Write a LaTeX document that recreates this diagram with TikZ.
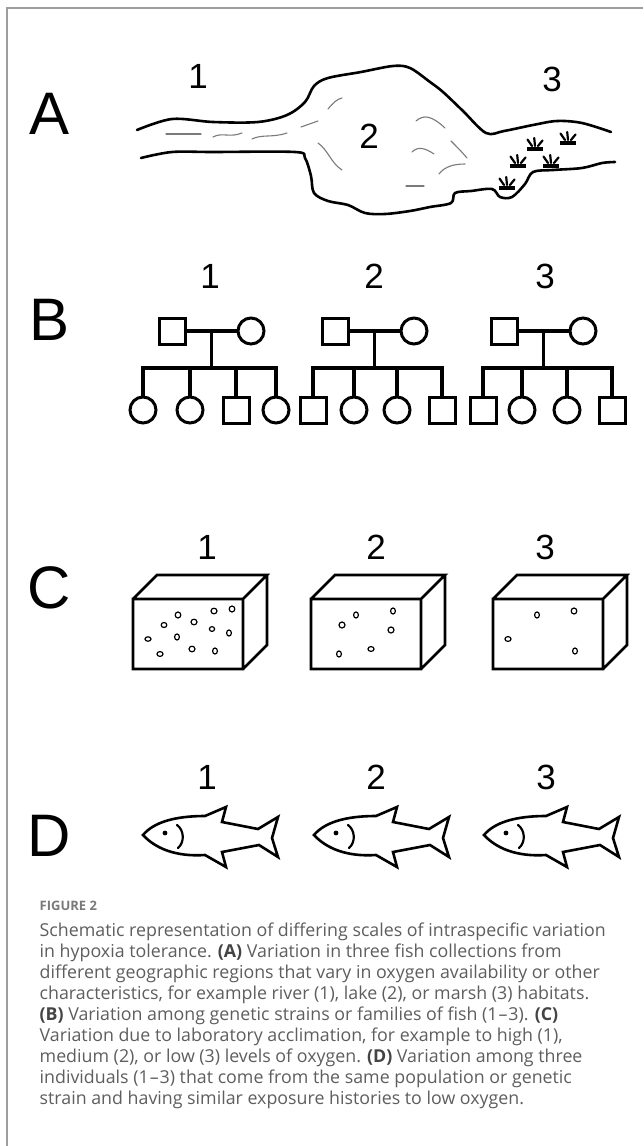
\documentclass[tikz,border=0pt]{standalone}
\usepackage{fontspec}
\setmainfont{Open Sans}
\newfontfamily\figfont{Liberation Sans}
\usetikzlibrary{calc}
\definecolor{captext}{HTML}{5E5E5E}
\definecolor{capbold}{HTML}{444444}
\definecolor{caphead}{HTML}{7A7A7A}
\definecolor{framegray}{HTML}{9E9E9E}
\definecolor{ripplegray}{HTML}{7A7A7A}

\newcommand{\rng}{1\kern1pt–\kern1pt3}

\tikzset{
  panel/.style={font=\figfont\fontsize{60}{60}\selectfont, inner sep=0, anchor=center},
  num/.style={font=\figfont\fontsize{35}{35}\selectfont, inner sep=0, anchor=center},
  bank/.style={line width=2.6pt, line cap=round, line join=round},
  ripple/.style={line width=1.1pt, draw=ripplegray, line cap=round},
  kin/.style={draw, line width=3pt, minimum size=26pt, inner sep=0},
  male/.style={kin, rectangle},
  female/.style={kin, circle},
  pedline/.style={line width=3.8pt},
  bubble/.style={line width=1.2pt},
  capline/.style={anchor=base west, inner sep=0, text=captext,
    font=\fontsize{17.8}{21}\selectfont},
  % marsh grass tuft: a bar with three blades
  tuft/.pic={
    \draw[line width=3.4pt] (-8,0) -- (8,0);
    \draw[line width=2.2pt, line cap=round]
      (0,-3) -- (-0.8,-11) (-3,-3) -- (-7.5,-9.5) (3,-3) -- (7.5,-8.5);
  },
  % aquarium tank drawn from the top-left corner of its front face
  crate/.pic={
    \draw[line width=2.8pt, line join=miter]
      (0,0) rectangle (110,70)
      (0,0) -- (24,-24) -- (134,-24) -- (110,0)
      (110,70) -- (134,46) -- (134,-24);
  },
  % fish outline, nose at the origin
  fishpic/.pic={
    \draw[line width=2.6pt, line join=miter, line cap=round]
      (0,0) .. controls (10,-12) and (30,-19) .. (62,-19)
      -- (83,-28) -- (79,-13) -- (115,-6) -- (135,-18) -- (129,3)
      -- (135,22) -- (116,10) -- (79,17) -- (83,32) -- (62,20)
      .. controls (32,22) and (12,13) .. cycle;
    \fill (22,-2) circle (2.4);
    \draw[line width=2.2pt, line cap=round]
      (34,-10) .. controls (41,-5) and (42,7) .. (35,13);
  }
}

\begin{document}
\begin{tikzpicture}[x=1pt,y=-1pt]
\useasboundingbox (0,0) rectangle (643,1146);
\fill[white] (0,0) rectangle (643,1146);

% frame
\draw[framegray, line width=1.6pt] (6.8,1146) -- (6.8,8) -- (643,8);

% ---------- panel A : river, lake, marsh ----------
\node[panel] (lA) at (49.5,114) {A};
\node[num] (nA1) at (198,76) {1};
\node[num] (nA2) at (369,136) {2};
\node[num] (nA3) at (552,79) {3};

\draw[bank] plot[smooth, tension=0.55] coordinates {
  (137,130) (172,119) (213,122) (258,122) (287,115) (305,102) (314,86)
  (328,78) (361,72) (393,66) (410,68) (430,82) (443,92) (463,111)
  (486,133) (504,131) (533,125) (557,121) (582,123) (611,132)};
\draw[bank] plot[smooth, tension=0.55] coordinates {
  (141,158) (172,152) (213,152) (295,152) (305,158) (311,176) (314,193)
  (328,201) (348,205) (365,213) (385,214) (410,211) (430,207) (451,203)
  (455,193) (471,191) (492,189) (500,197) (512,197) (525,184) (533,172)
  (553,170) (582,168) (602,163) (615,162)};

\draw[ripple] (166,134) -- (201,134);
\draw[ripple] (213,137) .. controls (222,132) and (230,138) .. (242,133);
\draw[ripple] (252,139) .. controls (262,134) and (272,138) .. (287,133);
\draw[ripple] (301,127) -- (318,121);
\draw[ripple] (328,109) .. controls (333,103) and (337,99) .. (342,98);
\draw[ripple] (318,143) .. controls (328,150) and (331,163) .. (342,170);
\draw[ripple] (416,121) .. controls (424,114) and (432,116) .. (445,128);
\draw[ripple] (451,141) .. controls (457,147) and (462,152) .. (467,158);
\draw[ripple] (412,152) .. controls (418,146) and (425,148) .. (434,154);
\draw[ripple] (439,174) .. controls (445,166) and (455,164) .. (465,164);
\draw[ripple] (406,186) -- (424,186);

\pic at (507,188) {tuft};
\pic at (518,166) {tuft};
\pic at (535,149) {tuft};
\pic at (551,166) {tuft};
\pic at (568,143) {tuft};

% ---------- panel B : pedigrees ----------
\node[panel] (lB) at (49.5,320) {B};
\node[num] (nB1) at (210,276) {1};
\node[num] (nB2) at (374,276) {2};
\node[num] (nB3) at (545,276) {3};

\coordinate (sib) at (0,368);

% family 1
\node[male] (f1) at (172,331) {};
\node[female] (m1) at (251,331) {};
\node[female] (c11) at (143,410) {};
\node[female] (c12) at (190,410) {};
\node[male]   (c13) at (236,410) {};
\node[female] (c14) at (276,410) {};
% family 2
\node[male] (f2) at (335,331) {};
\node[female] (m2) at (414,331) {};
\node[male]   (c21) at (313,410) {};
\node[female] (c22) at (354,410) {};
\node[female] (c23) at (397,410) {};
\node[male]   (c24) at (442,410) {};
% family 3
\node[male] (f3) at (504,331) {};
\node[female] (m3) at (583,331) {};
\node[male]   (c31) at (483,410) {};
\node[female] (c32) at (522,410) {};
\node[female] (c33) at (567,410) {};
\node[male]   (c34) at (612,410) {};

\foreach \k in {1,2,3}{
  \draw[pedline] (f\k) -- (m\k);
  \path ($(f\k)!.5!(m\k)$) coordinate (mid\k);
  \draw[pedline] (mid\k) -- (mid\k |- sib);
  \draw[pedline, line join=miter] (c\k1.north) |- (mid\k |- sib) -| (c\k4.north);
  \draw[pedline] (c\k2.north) -- (c\k2.north |- sib);
  \draw[pedline] (c\k3.north) -- (c\k3.north |- sib);
}

% ---------- panel C : tanks ----------
\node[panel] (lC) at (49.5,588) {C};
\node[num] (nC1) at (207,547) {1};
\node[num] (nC2) at (376,547) {2};
\node[num] (nC3) at (545,547) {3};

\pic at (133,599) {crate};
\pic at (311,599) {crate};
\pic at (493,599) {crate};

% bubbles, tank 1
\draw[bubble] (178,615) ellipse [x radius=2.8, y radius=3.0];
\draw[bubble] (164,625) ellipse [x radius=2.8, y radius=2.5];
\draw[bubble] (194,622) ellipse [x radius=3.0, y radius=2.8];
\draw[bubble] (214,611) ellipse [x radius=3.0, y radius=2.8];
\draw[bubble] (232,609) ellipse [x radius=2.8, y radius=3.0];
\draw[bubble] (212,629) ellipse [x radius=2.6, y radius=2.4];
\draw[bubble] (229,633) ellipse [x radius=2.4, y radius=3.0];
\draw[bubble] (148,639) ellipse [x radius=3.0, y radius=2.2];
\draw[bubble] (177,637) ellipse [x radius=2.4, y radius=3.0];
\draw[bubble] (160,654) ellipse [x radius=3.0, y radius=2.4];
\draw[bubble] (192,649) ellipse [x radius=3.0, y radius=2.8];
\draw[bubble] (215,651) ellipse [x radius=2.4, y radius=3.0];
% bubbles, tank 2
\draw[bubble] (356,615) ellipse [x radius=2.4, y radius=3.0];
\draw[bubble] (342,625) ellipse [x radius=3.0, y radius=3.0];
\draw[bubble] (393,611) ellipse [x radius=2.4, y radius=3.0];
\draw[bubble] (391,630) ellipse [x radius=3.0, y radius=3.0];
\draw[bubble] (339,654) ellipse [x radius=2.4, y radius=3.0];
\draw[bubble] (371,649) ellipse [x radius=3.0, y radius=2.4];
% bubbles, tank 3
\draw[bubble] (537,615) ellipse [x radius=2.4, y radius=3.0];
\draw[bubble] (574,611) ellipse [x radius=2.8, y radius=3.0];
\draw[bubble] (508,639) ellipse [x radius=3.0, y radius=2.4];
\draw[bubble] (575,651) ellipse [x radius=2.4, y radius=3.0];

% ---------- panel D : individual fish ----------
\node[panel] (lD) at (49.5,836) {D};
\node[num] (nD1) at (207,777) {1};
\node[num] (nD2) at (376,777) {2};
\node[num] (nD3) at (546,777) {3};

\pic at (143,835) {fishpic};
\pic at (314,835) {fishpic};
\pic at (484,835) {fishpic};

% ---------- caption ----------
\node[anchor=base west, inner sep=0, text=caphead,
  font=\bfseries\fontsize{13}{15}\selectfont] (fig) at (39.5,910) {FIGURE 2};
\node[capline] (cl1) at (39.5,936.0) {Schematic representation of differing scales of intraspecific variation};
\node[capline] (cl2) at (39.5,957.1) {in hypoxia tolerance. \textcolor{capbold}{\bfseries (A)} Variation in three fish collections from};
\node[capline] (cl3) at (39.5,978.2) {different geographic regions that vary in oxygen availability or other};
\node[capline] (cl4) at (39.5,999.3) {characteristics, for example river (1), lake (2), or marsh (3) habitats.};
\node[capline] (cl5) at (39.5,1020.4) {\textcolor{capbold}{\bfseries (B)} Variation among genetic strains or families of fish (\rng). \textcolor{capbold}{\bfseries (C)}};
\node[capline] (cl6) at (39.5,1041.5) {Variation due to laboratory acclimation, for example to high (1),};
\node[capline] (cl7) at (39.5,1062.6) {medium (2), or low (3) levels of oxygen. \textcolor{capbold}{\bfseries (D)} Variation among three};
\node[capline] (cl8) at (39.5,1083.7) {individuals (\rng) that come from the same population or genetic};
\node[capline] (cl9) at (39.5,1104.8) {strain and having similar exposure histories to low oxygen.};
\end{tikzpicture}
\end{document}
